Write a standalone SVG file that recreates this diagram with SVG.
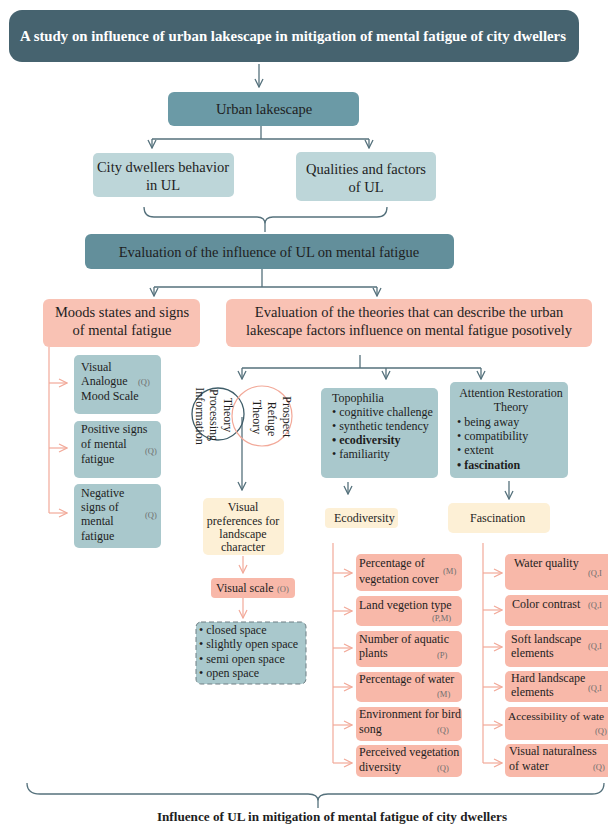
<svg xmlns="http://www.w3.org/2000/svg" width="608" height="826" viewBox="0 0 608 826">
<defs>
<marker id="ad" viewBox="-1 -5 10 10" refX="8" refY="0" markerWidth="10" markerHeight="10" markerUnits="userSpaceOnUse" orient="auto">
<path d="M0,-4 L8,0 L0,4" fill="none" stroke="#55717c" stroke-width="1.3"/>
</marker>
<marker id="ap" viewBox="-1 -5 10 10" refX="8" refY="0" markerWidth="10" markerHeight="10" markerUnits="userSpaceOnUse" orient="auto">
<path d="M0,-4 L8,0 L0,4" fill="none" stroke="#f2a999" stroke-width="1.2"/>
</marker>
</defs>
<style>
text{font-family:"Liberation Serif","Times New Roman",serif;fill:#1e1e1e}
.t15{font-size:14.5px}
.t12{font-size:12px}
.m{text-anchor:middle}
.b{font-weight:bold}
.q{font-size:8.5px;fill:#6f6f6f}
.dark{fill:#46636f}
.mid{fill:#6b9aa6}
.lt{fill:#bdd6d9}
.ev{fill:#638f9b}
.sal{fill:#f9c2b4}
.sl{fill:#f8b8a9}
.tl{fill:#a9c8cc}
.cr{fill:#fdf0d6}
.cd{fill:none;stroke:#55717c;stroke-width:1.3}
.cp{fill:none;stroke:#f2a999;stroke-width:1.2}
</style>
<rect width="608" height="826" fill="#ffffff"/>

<g id="connectors">
<path class="cd" d="M259,64 V87" marker-end="url(#ad)"/>
<path class="cd" d="M261,126 V139 M152,139 H369"/>
<path class="cd" d="M152,139 V148" marker-end="url(#ad)"/>
<path class="cd" d="M369,139 V148" marker-end="url(#ad)"/>
<path class="cd" d="M144,207 Q144,217 154,217 H257 Q265,217 265,224 Q265,217 273,217 H377 Q387,217 387,207 M265,224 V232"/>
<path class="cd" d="M262,269 V287 M154,287 H377"/>
<path class="cd" d="M154,287 V296" marker-end="url(#ad)"/>
<path class="cd" d="M377,287 V296" marker-end="url(#ad)"/>
<path class="cd" d="M360,355 V368 M242,368 H481"/>
<path class="cd" d="M242,368 V379" marker-end="url(#ad)"/>
<path class="cd" d="M386,368 V379" marker-end="url(#ad)"/>
<path class="cd" d="M481,368 V379" marker-end="url(#ad)"/>
<path class="cd" d="M242,417 V490" marker-end="url(#ad)"/>
<path class="cd" d="M348,482 V494" marker-end="url(#ad)"/>
<path class="cd" d="M509,481 V499" marker-end="url(#ad)"/>
<path class="cp" d="M49,347 V513"/>
<path class="cp" d="M49,383 H67" marker-end="url(#ap)"/>
<path class="cp" d="M49,448 H67" marker-end="url(#ap)"/>
<path class="cp" d="M49,513 H67" marker-end="url(#ap)"/>
<path class="cp" d="M243,556 V573" marker-end="url(#ap)"/>
<path class="cp" d="M243,598 V618" marker-end="url(#ap)"/>
<path class="cp" d="M333,543 V763"/>
<path class="cp" d="M333,573 H352" marker-end="url(#ap)"/>
<path class="cp" d="M333,611 H352" marker-end="url(#ap)"/>
<path class="cp" d="M333,648 H352" marker-end="url(#ap)"/>
<path class="cp" d="M333,687 H352" marker-end="url(#ap)"/>
<path class="cp" d="M333,725 H352" marker-end="url(#ap)"/>
<path class="cp" d="M333,763 H352" marker-end="url(#ap)"/>
<path class="cp" d="M483,543 V763"/>
<path class="cp" d="M483,573 H502" marker-end="url(#ap)"/>
<path class="cp" d="M483,610 H502" marker-end="url(#ap)"/>
<path class="cp" d="M483,647 H502" marker-end="url(#ap)"/>
<path class="cp" d="M483,687 H502" marker-end="url(#ap)"/>
<path class="cp" d="M483,725 H502" marker-end="url(#ap)"/>
<path class="cp" d="M483,763 H502" marker-end="url(#ap)"/>
<path class="cd" d="M27,783 Q27,794 40,794 H308 Q318,794 318,801 Q318,794 328,794 H592 Q604,794 604,783 M318,801 V808"/>
</g>

<g id="title">
<rect class="dark" x="9" y="10" width="570" height="52" rx="13"/>
<text class="b m" x="293" y="41" style="font-size:14.8px;fill:#ffffff">A study on influence of urban lakescape in mitigation of mental fatigue of city dwellers</text>
</g>

<g id="urban-lakescape">
<rect class="mid" x="168" y="92" width="191" height="34" rx="6"/>
<text class="t15 m" x="264" y="114">Urban lakescape</text>
</g>

<g id="city-dwellers">
<rect class="lt" x="93" y="153" width="141" height="44" rx="5"/>
<text class="t15 m" x="163" y="172">City dwellers behavior</text>
<text class="t15 m" x="163" y="190">in UL</text>
</g>

<g id="qualities">
<rect class="lt" x="296" y="152" width="140" height="49" rx="5"/>
<text class="t15 m" x="366" y="174">Qualities and factors</text>
<text class="t15 m" x="366" y="192">of UL</text>
</g>

<g id="evaluation">
<rect class="ev" x="85" y="234" width="369" height="35" rx="6"/>
<text class="t15 m" x="269" y="257">Evaluation of the influence of UL on mental fatigue</text>
</g>

<g id="moods">
<rect class="sal" x="43" y="299" width="157" height="48" rx="6"/>
<text class="t15 m" x="122" y="317">Moods states and signs</text>
<text class="t15 m" x="122" y="335">of mental fatigue</text>
</g>

<g id="theories">
<rect class="sal" x="226" y="299" width="366" height="48" rx="6"/>
<text class="t15 m" x="409" y="317">Evaluation of the theories that can describe the urban</text>
<text class="t15 m" x="409" y="335">lakescape factors influence on mental fatigue posotively</text>
</g>

<g id="vams">
<rect class="tl" x="74" y="355" width="87" height="59" rx="5"/>
<text class="t12" x="81" y="371">Visual</text>
<text class="t12" x="81" y="385">Analogue</text>
<text class="t12" x="81" y="400">Mood Scale</text>
<text class="q" x="138" y="385">(Q)</text>
</g>

<g id="positive-signs">
<rect class="tl" x="74" y="421" width="87" height="57" rx="5"/>
<text class="t12" x="81" y="433">Positive signs</text>
<text class="t12" x="81" y="448">of mental</text>
<text class="t12" x="81" y="463">fatigue</text>
<text class="q" x="145" y="454">(Q)</text>
</g>

<g id="negative-signs">
<rect class="tl" x="74" y="484" width="87" height="64" rx="5"/>
<text class="t12" x="81" y="497">Negative</text>
<text class="t12" x="81" y="511">signs of</text>
<text class="t12" x="81" y="525">mental</text>
<text class="t12" x="81" y="540">fatigue</text>
<text class="q" x="145" y="518">(Q)</text>
</g>

<g id="venn">
<circle cx="218" cy="414" r="26" fill="none" stroke="#3f5d69" stroke-width="1.3"/>
<circle cx="262" cy="416" r="30" fill="none" stroke="#f2a999" stroke-width="1.2"/>
<text class="t12 m" transform="translate(196,416) rotate(90)">Information</text>
<text class="t12 m" transform="translate(210,415) rotate(90)">Processing</text>
<text class="t12 m" transform="translate(224,415) rotate(90)">Theory</text>
<text class="t12 m" transform="translate(283,417) rotate(90)">Prospect</text>
<text class="t12 m" transform="translate(268,419) rotate(90)">Refuge</text>
<text class="t12 m" transform="translate(253,417) rotate(90)">Theory</text>
</g>

<g id="visual-preferences">
<rect class="cr" x="203" y="498" width="81" height="57" rx="5"/>
<text class="t12 m" x="243" y="511">Visual</text>
<text class="t12 m" x="243" y="525">preferences for</text>
<text class="t12 m" x="243" y="538">landscape</text>
<text class="t12 m" x="243" y="551">character</text>
</g>

<g id="visual-scale">
<rect class="sl" x="211" y="578" width="84" height="20" rx="4"/>
<text class="t12" x="216" y="592">Visual scale</text>
<text class="q" x="277" y="592">(O)</text>
</g>

<g id="spaces">
<rect class="tl" x="196" y="622" width="110" height="62" rx="5" stroke="#6e7f84" stroke-width="1" stroke-dasharray="5,3"/>
<text class="t12" x="199" y="634">• closed space</text>
<text class="t12" x="199" y="648">• slightly open space</text>
<text class="t12" x="199" y="663">• semi open space</text>
<text class="t12" x="199" y="677">• open space</text>
</g>

<g id="topophilia">
<rect class="tl" x="321" y="388" width="117" height="90" rx="5"/>
<text class="t12" x="332" y="402">Topophilia</text>
<text class="t12" x="332" y="416">• cognitive challenge</text>
<text class="t12" x="332" y="430">• synthetic tendency</text>
<text class="t12 b" x="332" y="444">• ecodiversity</text>
<text class="t12" x="332" y="458">• familiarity</text>
</g>

<g id="ecodiversity">
<rect class="cr" x="325" y="508" width="73" height="20" rx="4"/>
<text class="t12" x="334" y="522">Ecodiversity</text>
</g>

<g id="art">
<rect class="tl" x="450" y="382" width="118" height="96" rx="5"/>
<text class="t12 m" x="511" y="397">Attention Restoration</text>
<text class="t12 m" x="511" y="411">Theory</text>
<text class="t12" x="457" y="426">• being away</text>
<text class="t12" x="457" y="440">• compatibility</text>
<text class="t12" x="457" y="454">• extent</text>
<text class="t12 b" x="457" y="469">• fascination</text>
</g>

<g id="fascination">
<rect class="cr" x="448" y="503" width="102" height="30" rx="5"/>
<text class="t12" x="470" y="522">Fascination</text>
</g>

<g id="eco-1">
<rect class="sl" x="356" y="554" width="106" height="37" rx="5"/>
<text class="t12" x="359" y="567">Percentage of</text>
<text class="t12" x="359" y="583">vegetation cover</text>
<text class="q" x="443" y="574">(M)</text>
</g>
<g id="eco-2">
<rect class="sl" x="356" y="596" width="106" height="30" rx="5"/>
<text class="t12" x="359" y="609">Land  vegetion type</text>
<text class="q" x="432" y="621">(P,M)</text>
</g>
<g id="eco-3">
<rect class="sl" x="356" y="631" width="106" height="36" rx="5"/>
<text class="t12" x="359" y="643">Number of aquatic</text>
<text class="t12" x="359" y="657">plants</text>
<text class="q" x="437" y="658">(P)</text>
</g>
<g id="eco-4">
<rect class="sl" x="356" y="672" width="106" height="30" rx="5"/>
<text class="t12" x="359" y="683">Percentage of water</text>
<text class="q" x="437" y="697">(M)</text>
</g>
<g id="eco-5">
<rect class="sl" x="356" y="707" width="106" height="34" rx="5"/>
<text class="t12" x="359" y="718">Environment for bird</text>
<text class="t12" x="359" y="733">song</text>
<text class="q" x="437" y="733">(Q)</text>
</g>
<g id="eco-6">
<rect class="sl" x="356" y="745" width="106" height="32" rx="5"/>
<text class="t12" x="359" y="756">Perceived vegetation</text>
<text class="t12" x="359" y="771">diversity</text>
<text class="q" x="437" y="771">(Q)</text>
</g>

<g id="fas-1">
<rect class="sl" x="505" y="554" width="110" height="36" rx="5"/>
<text class="t12" x="514" y="567">Water quality</text>
<text class="q" x="588" y="576">(Q,I</text>
</g>
<g id="fas-2">
<rect class="sl" x="505" y="595" width="110" height="31" rx="5"/>
<text class="t12" x="512" y="608">Color contrast</text>
<text class="q" x="588" y="608">(Q,I</text>
</g>
<g id="fas-3">
<rect class="sl" x="505" y="630" width="110" height="37" rx="5"/>
<text class="t12" x="511" y="643">Soft landscape</text>
<text class="t12" x="511" y="657">elements</text>
<text class="q" x="588" y="649">(Q,I</text>
</g>
<g id="fas-4">
<rect class="sl" x="505" y="671" width="110" height="31" rx="5"/>
<text class="t12" x="511" y="682">Hard  landscape</text>
<text class="t12" x="511" y="696">elements</text>
<text class="q" x="588" y="691">(Q,I</text>
</g>
<g id="fas-5">
<rect class="sl" x="505" y="707" width="110" height="33" rx="5"/>
<text x="508" y="720" style="font-size:11.4px">Accessibility of wate</text>
<text class="q" x="595" y="734">(Q)</text>
</g>
<g id="fas-6">
<rect class="sl" x="505" y="744" width="110" height="33" rx="5"/>
<text class="t12" x="509" y="755">Visual naturalness</text>
<text class="t12" x="509" y="770">of water</text>
<text class="q" x="593" y="770">(Q)</text>
</g>

<g id="conclusion">
<text class="b m" x="332" y="821" style="font-size:13.2px">Influence of UL in mitigation of mental fatigue of city dwellers</text>
</g>
</svg>
